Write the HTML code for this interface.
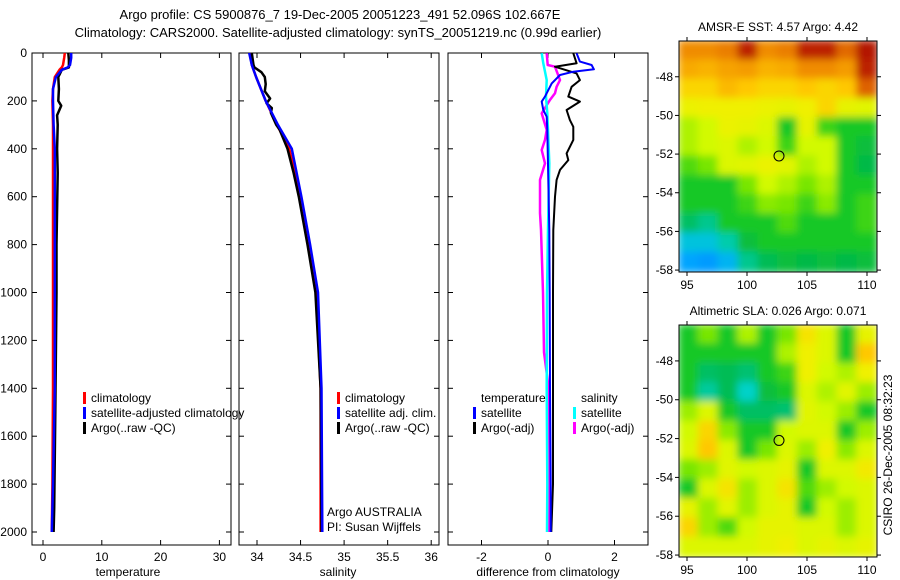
<!DOCTYPE html>
<html><head><meta charset="utf-8"><style>
html,body{margin:0;padding:0;background:#fff}
svg{display:block;font-family:"Liberation Sans",sans-serif}
</style></head><body>
<svg id="c" width="900" height="580" viewBox="0 0 900 580"></svg>
<script>
// ---- data ----
const tDepth=[0,20,50,60,70,100,150,200,300,400,600,1000,1400,1800,2000];
const tempClim=[3.7,3.6,3.4,3.2,2.8,2.0,1.7,1.6,1.7,1.7,1.7,1.7,1.7,1.6,1.5];
const tempSat=[4.8,4.8,4.6,4.2,3.2,2.2,1.7,1.7,1.8,2.0,2.0,2.0,2.0,1.7,1.5];
const aDepth=[0,30,60,70,85,100,150,200,220,260,300,400,500,800,1000,1500,1900,2000];
const tempArgo=[4.3,4.4,4.4,3.2,2.9,2.6,2.7,2.6,3.1,2.4,2.5,2.4,2.5,2.3,2.3,2.1,1.9,1.8];
const sDepth=[0,50,100,200,300,400,600,800,1000,1400,2000];
const salClim=[33.92,33.94,33.99,34.1,34.23,34.37,34.5,34.6,34.68,34.73,34.73];
const salSat=[33.91,33.94,33.99,34.1,34.24,34.4,34.51,34.61,34.7,34.74,34.75];
const saDepth=[0,50,60,80,100,130,160,190,210,230,250,300,320,400,500,600,800,1000,1400,2000];
const salArgo=[33.94,33.96,33.97,34.05,34.09,34.1,34.09,34.15,34.11,34.17,34.16,34.22,34.26,34.35,34.42,34.48,34.58,34.67,34.73,34.74];
const dtDepth=[1,43,57,85,113,141,182,203,238,280,308,363,419,447,488,530,600,739,1000,1400,1800,2000];
const diffTempArgo=[0.76,0.86,0.21,0.86,0.96,0.71,0.61,0.96,0.56,0.66,0.76,0.76,0.56,0.61,0.36,0.26,0.21,0.16,0.15,0.15,0.15,0.1];
const dsDepth=[1,36,50,68,78,92,127,182,203,238,266,321,739,1000,1400,1800,2000];
const diffTempSat=[0.86,0.96,1.31,1.38,0.76,0.36,0.11,-0.09,-0.19,-0.14,-0.04,-0.02,0.04,0.05,0.06,0.08,0.08];
const dmDepth=[1,50,57,113,141,168,196,252,321,363,405,461,530,669,739,1000,1250,1400,1800,2000];
const diffSalArgo=[-0.04,-0.01,0.21,0.36,0.26,0.21,0.06,-0.19,-0.04,-0.09,-0.19,-0.09,-0.24,-0.24,-0.21,-0.15,-0.12,0.02,0.05,0.03];
const dcDepth=[1,43,113,182,252,321,461,739,1000,1400,1800,2000];
const diffSalSat=[-0.19,-0.14,-0.04,-0.06,-0.02,0.0,0.04,0.0,-0.03,-0.04,-0.02,-0.03];
const depthTicks=[0,200,400,600,800,1000,1200,1400,1600,1800,2000];
const tempTicks=[0,10,20,30];
const salTicks=[34,34.5,35,35.5,36];
const diffTicks=[-2,0,2];
const lonTicks=[95,100,105,110];
const latTicks=[-48,-50,-52,-54,-56,-58];
const sstGrid=[
[0.8,0.8,0.82,0.95,0.8,0.82,0.95,0.95,0.85,0.97],
[0.76,0.75,0.77,0.78,0.75,0.76,0.8,0.8,0.78,0.95],
[0.7,0.7,0.74,0.72,0.7,0.7,0.72,0.7,0.72,0.86],
[0.65,0.66,0.66,0.66,0.65,0.64,0.66,0.7,0.64,0.63],
[0.58,0.6,0.65,0.64,0.62,0.5,0.64,0.52,0.5,0.5],
[0.58,0.6,0.62,0.58,0.6,0.52,0.6,0.6,0.5,0.48],
[0.53,0.55,0.62,0.63,0.65,0.63,0.58,0.6,0.5,0.47],
[0.5,0.5,0.5,0.55,0.6,0.58,0.55,0.58,0.5,0.5],
[0.5,0.5,0.5,0.52,0.56,0.55,0.52,0.56,0.5,0.52],
[0.45,0.42,0.5,0.5,0.5,0.53,0.5,0.5,0.5,0.52],
[0.35,0.35,0.4,0.48,0.5,0.5,0.5,0.5,0.5,0.5],
[0.28,0.25,0.32,0.42,0.46,0.48,0.47,0.48,0.47,0.48]];
const slaGrid=[
[0.5,0.55,0.5,0.58,0.5,0.55,0.68,0.62,0.5,0.64],
[0.5,0.5,0.5,0.5,0.5,0.58,0.66,0.62,0.5,0.72],
[0.5,0.45,0.46,0.44,0.5,0.52,0.66,0.6,0.58,0.66],
[0.5,0.41,0.46,0.38,0.48,0.5,0.62,0.58,0.63,0.57],
[0.57,0.62,0.5,0.45,0.45,0.44,0.63,0.6,0.57,0.5],
[0.6,0.7,0.56,0.5,0.5,0.6,0.62,0.62,0.5,0.57],
[0.62,0.72,0.62,0.5,0.55,0.62,0.57,0.66,0.56,0.62],
[0.55,0.57,0.63,0.6,0.62,0.64,0.5,0.62,0.62,0.67],
[0.5,0.62,0.68,0.57,0.62,0.68,0.53,0.57,0.6,0.62],
[0.64,0.57,0.63,0.57,0.62,0.64,0.5,0.6,0.57,0.62],
[0.7,0.57,0.53,0.6,0.64,0.64,0.62,0.62,0.57,0.62],
[0.62,0.62,0.62,0.62,0.64,0.66,0.62,0.64,0.62,0.64]];
const floatLon=102.667, floatLat=-52.096;

// ---- helpers ----
const NS="http://www.w3.org/2000/svg", svg=document.getElementById('c');
function el(t,a,p){const e=document.createElementNS(NS,t);for(const k in a)e.setAttribute(k,a[k]);(p||svg).appendChild(e);return e;}
function txt(x,y,s,anchor,size,p){const e=el('text',{x:x,y:y,'font-size':size||12,'text-anchor':anchor||'start',fill:'#000'},p);e.textContent=s;return e;}
const yD=d=>53+d*0.2395;
const PB={top:53,bot:545};
function panel(name,x0,x1,xs,ticks,fmt,label,lblX){
  const g=el('g',{});
  
  
  el('rect',{x:x0,y:PB.top,width:x1-x0,height:PB.bot-PB.top,fill:'none',stroke:'#000','stroke-width':1},g);
  depthTicks.forEach(d=>{const y=yD(d);
    el('line',{x1:x0,x2:x0+5,y1:y,y2:y,stroke:'#000'},g);
    el('line',{x1:x1-5,x2:x1,y1:y,y2:y,stroke:'#000'},g);});
  ticks.forEach(v=>{const x=xs(v);
    el('line',{x1:x,x2:x,y1:PB.top,y2:PB.top+5,stroke:'#000'},g);
    el('line',{x1:x,x2:x,y1:PB.bot-5,y2:PB.bot,stroke:'#000'},g);
    const t=txt(x,561,fmt(v),'middle',12,g);
    });
  const l=txt(lblX,576,label,'middle',12,g);
  
  return g;
}
function line(g,xs,vals,depths,color,w,name){
  const pts=vals.map((v,i)=>xs(v).toFixed(1)+','+yD(depths[i]).toFixed(1)).join(' ');
  const p=el('polyline',{points:pts,fill:'none',stroke:color,'stroke-width':w||2.5,'stroke-linejoin':'round'},g);
  
  
}
function legend(g,x,y,color,s,name){
  if(color){el('rect',{x:x,y:y-10,width:3,height:12,fill:color},g);}
  const t=txt(x+8,y,s,'start',12,g);
  
  
}

let t1=txt(340,19,'Argo profile: CS 5900876_7 19-Dec-2005 20051223_491 52.096S 102.667E','middle',13);

let t2=txt(338,37,'Climatology: CARS2000. Satellite-adjusted climatology: synTS_20051219.nc (0.99d earlier)','middle',13);


depthTicks.forEach(d=>{const t=txt(27,yD(d)+4,String(d),'end',12);
  });

const xT=v=>43+v*5.88;
const g1=panel('temperature-panel',32,231,xT,tempTicks,String,'temperature',128);
line(g1,xT,tempClim,tDepth,'#f00',2.5,'temp-climatology-line');
line(g1,xT,tempArgo,aDepth,'#000',2.5,'temp-argo-line');
line(g1,xT,tempSat,tDepth,'#00f',2.5,'temp-satellite-line');
legend(g1,83,402,'#f00','climatology','legend-climatology');
legend(g1,83,417,'#00f','satellite-adjusted climatology','legend-satellite');
legend(g1,83,432,'#000','Argo(..raw -QC)','legend-argo');

const xS=v=>257+(v-34)*87.1;
const g2=panel('salinity-panel',239,439,xS,salTicks,v=>String(v),'salinity',338);
line(g2,xS,salClim,sDepth,'#f00',2.5,'sal-climatology-line');
line(g2,xS,salArgo,saDepth,'#000',2.5,'sal-argo-line');
line(g2,xS,salSat,sDepth,'#00f',2.5,'sal-satellite-line');
legend(g2,337,402,'#f00','climatology','legend-climatology');
legend(g2,337,417,'#00f','satellite adj. clim.','legend-satellite');
legend(g2,337,432,'#000','Argo(..raw -QC)','legend-argo');
legend(g2,319,516,null,'Argo AUSTRALIA','agency-label');
legend(g2,319,531,null,'PI: Susan Wijffels','pi-label');

const xF=v=>548+v*33.25;
const g3=panel('difference-panel',448,648,xF,diffTicks,String,'difference from climatology',548);
line(g3,xF,diffSalArgo,dmDepth,'#f0f',2.5,'sal-argo-diff-line');
line(g3,xF,diffSalSat,dcDepth,'#0ff',2.5,'sal-satellite-diff-line');
line(g3,xF,diffTempArgo,dtDepth,'#000',2,'temp-argo-diff-line');
line(g3,xF,diffTempSat,dsDepth,'#00f',2,'temp-satellite-diff-line');
legend(g3,473,402,null,'temperature','legend-temp-header');
legend(g3,473,417,'#00f','satellite','legend-temp-satellite');
legend(g3,473,432,'#000','Argo(-adj)','legend-temp-argo');
legend(g3,573,402,null,'salinity','legend-sal-header');
legend(g3,573,417,'#0ff','satellite','legend-sal-satellite');
legend(g3,573,432,'#f0f','Argo(-adj)','legend-sal-argo');

const stops=[[0,[0,80,255]],[0.3,[0,170,255]],[0.38,[0,210,200]],[0.47,[0,185,70]],[0.5,[20,200,40]],[0.55,[120,230,0]],[0.6,[210,250,0]],[0.66,[240,240,0]],[0.72,[255,200,0]],[0.8,[240,140,0]],[0.9,[210,70,0]],[1,[165,0,0]]];
function cmap(v){for(let i=1;i<stops.length;i++){if(v<=stops[i][0]){const a=stops[i-1],b=stops[i],f=(v-a[0])/(b[0]-a[0]);
  return 'rgb('+a[1].map((c,k)=>Math.round(c+(b[1][k]-c)*f)).join(',')+')';}}return 'rgb(165,0,0)';}

el('defs',{}).innerHTML='<filter id="bl" x="0" y="0" width="1" height="1"><feGaussianBlur stdDeviation="4"/></filter><clipPath id="cp1"><rect x="679" y="41" width="198" height="231"/></clipPath><clipPath id="cp2"><rect x="679" y="325" width="198" height="232"/></clipPath>';

function map(name,grid,top,bot,title,clip){
  const L=679,R=877,lat0=-46.15;
  const xL=lo=>687+(lo-95)*12.0;
  const yL=la=>top+(lat0-la)*((bot-top)/(lat0+58.1));
  const g=el('g',{});
  
  
  const cg=el('g',{'clip-path':'url(#'+clip+')'},g);
  const hg=el('g',{filter:'url(#bl)'},cg);
  const rows=grid.length,cols=grid[0].length;
  const cw=(R-L)/cols,ch=(bot-top)/rows;
  grid.forEach((row,r)=>row.forEach((v,c)=>{
    const cell=el('rect',{x:(L+c*cw-1).toFixed(1),y:(top+r*ch-1).toFixed(1),width:(cw+2).toFixed(1),height:(ch+2).toFixed(1),fill:cmap(v)},hg);
    
    
  }));
  el('rect',{x:L,y:top,width:R-L,height:bot-top,fill:'none',stroke:'#000'},g);
  lonTicks.forEach(lo=>{const x=xL(lo);
    el('line',{x1:x,x2:x,y1:top-4,y2:top,stroke:'#000'},g);
    el('line',{x1:x,x2:x,y1:bot,y2:bot+4,stroke:'#000'},g);
    const t=txt(x,bot+17,String(lo),'middle',12,g);
    });
  latTicks.forEach(la=>{const y=yL(la);
    el('line',{x1:L-4,x2:L,y1:y,y2:y,stroke:'#000'},g);
    el('line',{x1:R,x2:R+4,y1:y,y2:y,stroke:'#000'},g);
    const t=txt(L-6,y+4,String(la),'end',12,g);
    });
  const c=el('circle',{cx:xL(floatLon),cy:yL(floatLat),r:5,fill:'none',stroke:'#000','stroke-width':1},g);
  
  
  const tt=txt(778,top-10,title,'middle',12,g);
  
}
map('sst-map',sstGrid,41,272,'AMSR-E SST: 4.57 Argo: 4.42','cp1');
map('sla-map',slaGrid,325,557,'Altimetric SLA: 0.026 Argo: 0.071','cp2');

const cs=txt(0,0,'CSIRO 26-Dec-2005 08:32:23','middle',12);
cs.setAttribute('transform','translate(892,455) rotate(-90)');


</script>
</body></html>
